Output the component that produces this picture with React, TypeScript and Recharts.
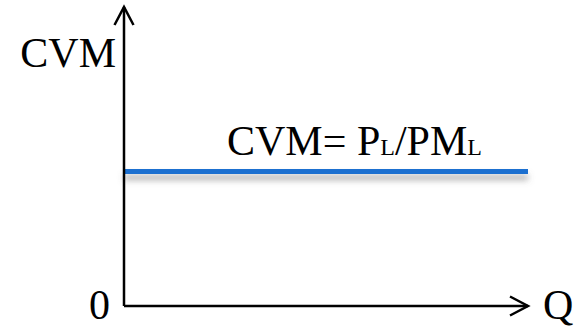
import { LineChart, Line, XAxis, YAxis, ReferenceLine } from 'recharts';

// Q range and the constant CVM level (0-100 scale on both axes)
const qValues = [0, 100];
const cvmValues = [45, 45];
const yTicks = [0];

const data = qValues.map((q, i) => ({ q, cvm: cvmValues[i] }));

const FONT = '"Liberation Serif", "Times New Roman", serif';

// open arrowhead drawn at the far end of a segment
const arrowHead = (dir: 'up' | 'right') => (props: any) => {
  const { x2, y2 } = props;
  if (x2 == null || y2 == null) return null;
  const pts = dir === 'up'
    ? `${x2 - 9.5},${y2 + 18} ${x2},${y2} ${x2 + 9.5},${y2 + 18}`
    : `${x2 - 18},${y2 - 9.5} ${x2},${y2} ${x2 - 18},${y2 + 9.5}`;
  return <polyline points={pts} fill="none" stroke="#000" strokeWidth={2.5} />;
};

const ZeroTick = (props: any) => {
  const { x, y, payload } = props;
  return (
    <text x={x - 6} y={y + 13} textAnchor="end" fontSize={42} fontFamily={FONT} fill="#000">
      {payload.value}
    </text>
  );
};

export default function App() {
  return (
    <div style={{ position: 'fixed', left: 0, top: 0, width: 575, height: 329, background: '#fff' }}>
      <svg width={0} height={0} style={{ position: 'absolute' }}>
        <defs>
          <filter id="lineShadow" filterUnits="userSpaceOnUse" x={0} y={0} width={575} height={329}>
            <feDropShadow dx={0} dy={6} stdDeviation={3} floodColor="#666" floodOpacity={0.55} />
          </filter>
        </defs>
      </svg>
      <LineChart width={575} height={329} data={data} margin={{ top: 7, right: 47, bottom: 22, left: 123 }}>
        <XAxis
          type="number"
          dataKey="q"
          domain={[0, 100]}
          height={1}
          tick={false}
          tickLine={false}
          axisLine={{ stroke: '#000', strokeWidth: 2.5 }}
        />
        <YAxis
          type="number"
          domain={[0, 100]}
          ticks={yTicks}
          width={1}
          tick={<ZeroTick />}
          tickLine={false}
          axisLine={{ stroke: '#000', strokeWidth: 2.5 }}
        />
        <ReferenceLine segment={[{ x: 0, y: 0 }, { x: 0, y: 100 }]} shape={arrowHead('up')} />
        <ReferenceLine segment={[{ x: 0, y: 0 }, { x: 100, y: 0 }]} shape={arrowHead('right')} />
        <Line
          type="linear"
          dataKey="cvm"
          stroke="#1f6fd0"
          strokeWidth={5}
          dot={false}
          activeDot={false}
          filter="url(#lineShadow)"
          isAnimationActive={false}
        />
        <text x={116} y={67} textAnchor="end" fontSize={42} fontFamily={FONT} fill="#000">CVM</text>
        <text x={543} y={319} fontSize={42} fontFamily={FONT} fill="#000">Q</text>
        <text x={227} y={155} fontSize={42} fontFamily={FONT} fill="#000">
          CVM= P<tspan fontSize={24}>L</tspan>/PM<tspan fontSize={24}>L</tspan>
        </text>
      </LineChart>
    </div>
  );
}
